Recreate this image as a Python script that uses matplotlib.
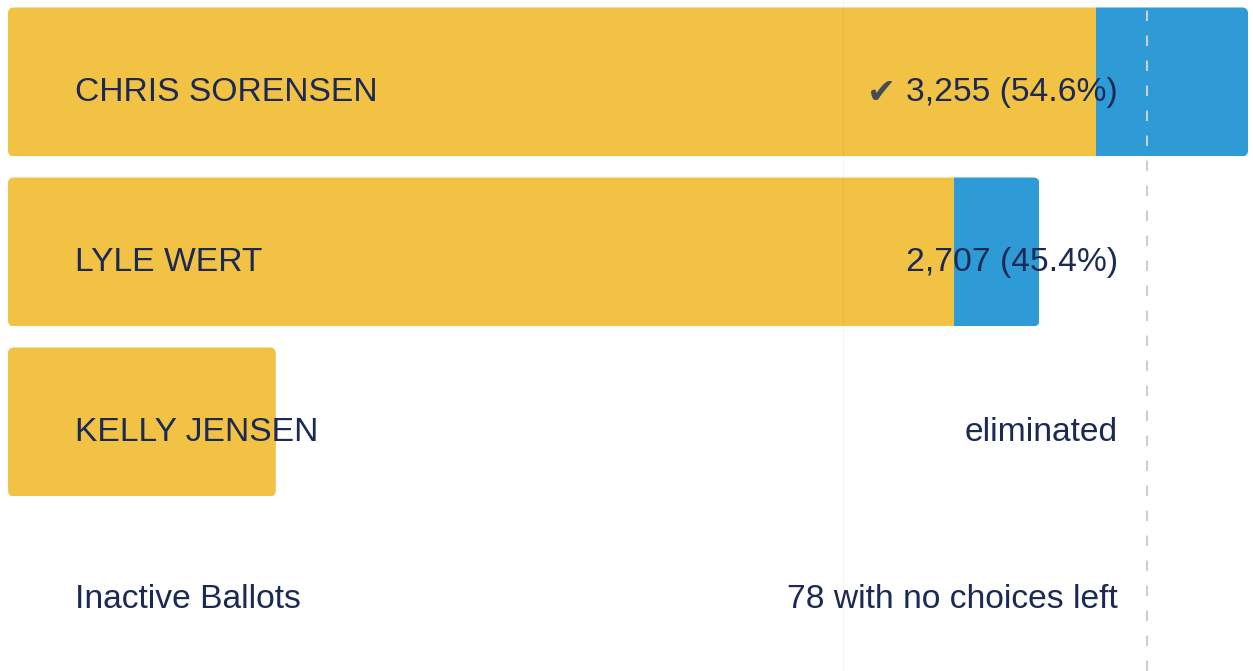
import matplotlib
matplotlib.use("Agg")
from matplotlib import pyplot as plt
from matplotlib.patches import FancyBboxPatch

# ranked-choice round: first-choice votes + transferred votes
candidates = ["CHRIS SORENSEN", "LYLE WERT", "KELLY JENSEN"]
first_round = [2855, 2482, 703]
transferred = [400, 225, 0]
final_labels = ["3,255 (54.6%)", "2,707 (45.4%)", "eliminated"]
winner = [True, False, False]
inactive_label = "Inactive Ballots"
inactive_text = "78 with no choices left"
majority = 2990
guide_x = 2192

yellow = "#F1C243"
blue = "#2E9AD6"
navy = "#1B2A55"

plt.rcParams["font.family"] = ["Liberation Sans", "DejaVu Sans"]

fig = plt.figure(figsize=(12.53, 6.71), dpi=100)
ax = fig.add_axes([0, 0, 1, 1])
ax.set_xlim(-21, 3268)
ax.set_ylim(3.465, -0.482)
ax.axis("off")

rows = list(range(len(candidates)))
totals = [f + t for f, t in zip(first_round, transferred)]

# pixel aspect so rounded corners stay round
x_per_px = (3268 + 21) / 1253
y_per_px = (3.465 + 0.482) / 671
aspect = y_per_px / x_per_px
rad = 6 * x_per_px

outer = ax.barh(rows, totals, height=0.876, color="none")
shapes = []
for r in outer.patches:
    x0, y0 = r.get_x(), r.get_y()
    w, h = r.get_width(), r.get_height()
    fb = FancyBboxPatch((x0, y0), w, h, boxstyle=f"round,pad=0,rounding_size={rad}",
                        mutation_aspect=aspect, facecolor="none", edgecolor="none", zorder=1)
    ax.add_patch(fb)
    shapes.append(fb)
    r.remove()

inner = ax.barh(rows, first_round, height=0.876, color=yellow, zorder=2)
extra = ax.barh(rows, transferred, left=first_round, height=0.876, color=blue, zorder=2)
for a, b, fb in zip(inner.patches, extra.patches, shapes):
    a.set_clip_path(fb)
    b.set_clip_path(fb)

ax.axvline(guide_x, color="#000000", alpha=0.035, lw=1, zorder=3)
ax.axvline(majority, color="#cfcfcf", lw=1.5, dashes=(5, 7), zorder=3)

lab_x = (75 - 8) * x_per_px
val_x = (1118 - 8) * x_per_px
dy = 11 * y_per_px
fs = 24.2
for i, name in enumerate(candidates):
    ax.text(lab_x, i + dy, name, fontsize=fs, color=navy, va="center", ha="left", zorder=4)
    t = ax.text(val_x, i + dy, final_labels[i], fontsize=fs, color=navy, va="center", ha="right", zorder=4)
    if winner[i]:
        fig.canvas.draw()
        bb = t.get_window_extent(fig.canvas.get_renderer())
        ax.annotate("\u2714", xy=(bb.x0, bb.y0 + bb.height / 2), xycoords="figure pixels",
                    xytext=(-7, 0), textcoords="offset points",
                    fontsize=25, color="#464C57", va="center", ha="right", zorder=4,
                    family=["DejaVu Sans"])

iy = 3 + 8 * y_per_px
ax.text(lab_x, iy, inactive_label, fontsize=fs, color=navy, va="center", ha="left")
ax.text(val_x, iy, inactive_text, fontsize=fs, color=navy, va="center", ha="right")

fig.savefig("out.png", dpi=100, facecolor="white")
